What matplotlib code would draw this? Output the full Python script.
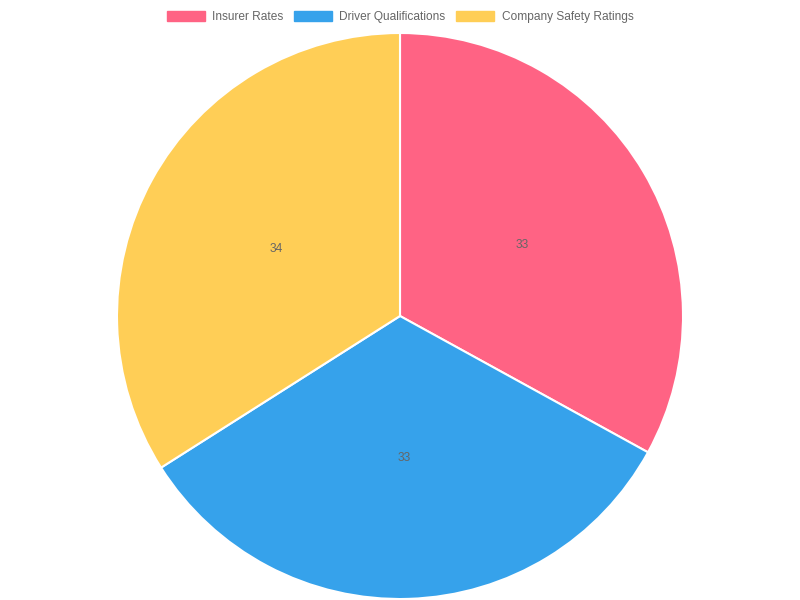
import matplotlib
matplotlib.use("Agg")
import matplotlib.pyplot as plt
from matplotlib.patches import Patch

categories = ["Insurer Rates", "Driver Qualifications", "Company Safety Ratings"]
values = [33, 33, 34]
colors = ["#FF6384", "#36A2EB", "#FFCE56"]

plt.rcParams['font.family'] = ['Liberation Sans', 'DejaVu Sans']

fig = plt.figure(figsize=(8, 6), dpi=100)
ax = fig.add_axes([0, 0, 1, 1])
ax.set_xlim(0, 800)
ax.set_ylim(0, 600)

wedges, texts = ax.pie(values, labels=[str(v) for v in values], colors=colors,
                       startangle=90, counterclock=False,
                       center=(400, 284), radius=283, frame=True,
                       labeldistance=0.5,
                       wedgeprops=dict(edgecolor="white", linewidth=1.5),
                       textprops=dict(color="#666666", fontsize=8.6, ha="center", va="center"))
for t in texts:
    x, y = t.get_position()
    t.set_position((x, y - 1))
ax.set_xlim(0, 800)
ax.set_ylim(0, 600)
ax.set_aspect("equal")
ax.axis("off")

handles = [Patch(facecolor=c, edgecolor=c) for c in colors]
fig.legend(handles, categories, loc="center", bbox_to_anchor=(0.5, 1 - 17/600),
           ncol=3, frameon=False, fontsize=8.6, labelcolor="#666666",
           handlelength=3.2, handleheight=0.85, handletextpad=0.6,
           columnspacing=0.9, borderpad=0, borderaxespad=0)

fig.savefig("out.png", dpi=100)
